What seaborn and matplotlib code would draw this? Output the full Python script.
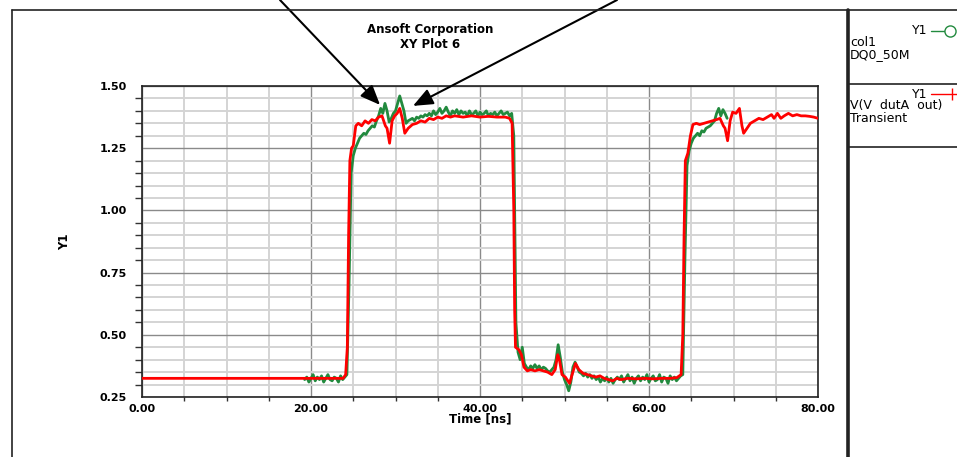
import numpy as np
import pandas as pd
import matplotlib
matplotlib.use("Agg")
import matplotlib.pyplot as plt
from matplotlib.lines import Line2D
from matplotlib.ticker import MultipleLocator
import seaborn as sns

# ---- measured trace: col1 / DQ0_50M (sampled every 0.25 ns from 19.25 ns) ----
MEAS_T0 = 19.25
MEAS_DT = 0.25
meas_low1 = [0.32, 0.33, 0.31, 0.325, 0.34, 0.315, 0.33, 0.32, 0.335, 0.31,
             0.325, 0.34, 0.32, 0.315, 0.33, 0.325, 0.31, 0.335, 0.32, 0.33]
meas_rise1 = [0.34, 0.7, 1.15, 1.22, 1.25, 1.27, 1.29, 1.30, 1.31, 1.305,
              1.32, 1.33, 1.34, 1.335, 1.36, 1.38, 1.41, 1.39, 1.43, 1.40,
              1.355, 1.37, 1.39, 1.40, 1.43, 1.46, 1.43, 1.40, 1.35, 1.36,
              1.365, 1.37, 1.36, 1.375, 1.37, 1.38, 1.375, 1.385, 1.38]
meas_high = [1.39, 1.38, 1.40, 1.385, 1.395, 1.41, 1.39, 1.40, 1.415, 1.395,
             1.38, 1.40, 1.39, 1.405, 1.385, 1.40, 1.39, 1.395, 1.38, 1.40,
             1.385, 1.39, 1.40, 1.38, 1.395, 1.385, 1.39, 1.40, 1.38, 1.39,
             1.385, 1.395, 1.38, 1.39, 1.40, 1.385, 1.39, 1.395, 1.38, 1.39]
meas_fall = [1.3, 0.55, 0.43, 0.40, 0.45, 0.385, 0.37, 0.36, 0.375, 0.365,
             0.38, 0.365, 0.375, 0.36, 0.37, 0.365, 0.355, 0.35, 0.36, 0.37,
             0.40, 0.46, 0.41, 0.35, 0.32, 0.30, 0.275, 0.31, 0.37, 0.39,
             0.37, 0.35, 0.345, 0.335, 0.345, 0.33, 0.34, 0.325, 0.335, 0.32,
             0.33, 0.31, 0.325, 0.315, 0.33, 0.31, 0.325, 0.305, 0.32, 0.33]
meas_low2 = [0.32, 0.335, 0.31, 0.325, 0.34, 0.315, 0.33, 0.305, 0.325, 0.335,
             0.315, 0.33, 0.32, 0.34, 0.31, 0.325, 0.335, 0.315, 0.32, 0.34,
             0.31, 0.33, 0.325, 0.305, 0.335, 0.32, 0.33, 0.315, 0.325, 0.335]
meas_rise2 = [0.34, 0.8, 1.18, 1.24, 1.27, 1.29, 1.30, 1.31, 1.30, 1.32,
              1.315, 1.33, 1.335, 1.34, 1.35, 1.36, 1.39, 1.41, 1.38, 1.405,
              1.39, 1.37]

# ---- simulated trace: V(V dutA out), Transient ----
sim_t = [0.0, 23.8, 24.1, 24.3, 24.45, 24.6, 24.8, 25.0, 25.3, 25.6,
         26.0, 26.4, 26.8, 27.2, 27.6, 28.0, 28.4, 28.8, 29.0, 29.3,
         29.6, 29.9, 30.2, 30.5, 30.8, 31.1, 31.5, 32.0, 32.5, 33.0,
         33.5, 34.0, 34.5, 35.0, 35.5, 36.0, 36.5, 37.0, 38.0, 39.0,
         40.0, 41.0, 42.0, 43.0, 43.5, 43.8, 44.0, 44.1, 44.2, 44.6,
         44.9, 45.2, 45.6, 46.0, 46.5, 47.0, 47.5, 48.0, 48.5, 48.9,
         49.2, 49.4, 49.7, 50.1, 50.6, 50.9, 51.3, 51.7, 52.2, 52.7,
         53.2, 53.7, 54.2, 54.7, 55.2, 55.7, 56.2, 56.7, 57.5, 58.5,
         59.5, 60.5, 61.5, 62.5, 63.3, 63.8, 64.0, 64.15, 64.3, 64.6,
         64.9, 65.2, 65.6, 66.0, 66.5, 67.0, 67.5, 68.0, 68.4, 68.8,
         69.0, 69.3, 69.6, 69.9, 70.3, 70.7, 71.0, 71.2, 71.6, 72.0,
         72.5, 73.0, 73.5, 74.0, 74.5, 74.8, 75.2, 75.6, 76.0, 76.5,
         77.0, 77.5, 78.0, 78.5, 79.0, 79.5, 80.0]
sim_v = [0.325, 0.325, 0.34, 0.45, 0.9, 1.2, 1.25, 1.26, 1.34, 1.35,
         1.34, 1.36, 1.35, 1.365, 1.36, 1.375, 1.38, 1.34, 1.33, 1.27,
         1.36, 1.38, 1.39, 1.41, 1.37, 1.31, 1.33, 1.345, 1.35, 1.36,
         1.355, 1.37, 1.365, 1.375, 1.37, 1.38, 1.375, 1.38, 1.375, 1.38,
         1.375, 1.378, 1.375, 1.375, 1.37, 1.35, 1.0, 0.6, 0.45, 0.44,
         0.42, 0.37, 0.355, 0.36, 0.355, 0.36, 0.355, 0.35, 0.34, 0.36,
         0.42, 0.40, 0.34, 0.33, 0.305, 0.34, 0.385, 0.36, 0.345, 0.34,
         0.335, 0.33, 0.335, 0.325, 0.32, 0.315, 0.325, 0.32, 0.325, 0.323,
         0.325, 0.323, 0.325, 0.325, 0.328, 0.34, 0.5, 0.9, 1.2, 1.23,
         1.3, 1.345, 1.35, 1.345, 1.35, 1.355, 1.36, 1.365, 1.37, 1.34,
         1.33, 1.28, 1.36, 1.395, 1.39, 1.41, 1.34, 1.31, 1.33, 1.35,
         1.36, 1.37, 1.365, 1.375, 1.385, 1.37, 1.39, 1.37, 1.38, 1.39,
         1.38, 1.385, 1.38, 1.38, 1.378, 1.375, 1.37]

x_ticks = [0, 20, 40, 60, 80]
x_tick_labels = ["0.00", "20.00", "40.00", "60.00", "80.00"]
y_ticks = [0.25, 0.50, 0.75, 1.00, 1.25, 1.50]
y_tick_labels = ["0.25", "0.50", "0.75", "1.00", "1.25", "1.50"]

GREEN = "#228a3e"
RED = "#ff0000"

meas_v = meas_low1 + meas_rise1 + meas_high + meas_fall + meas_low2 + meas_rise2
meas_t = MEAS_T0 + MEAS_DT * np.arange(len(meas_v))
df_meas = pd.DataFrame({"t": meas_t, "v": meas_v})
df_sim = pd.DataFrame({"t": sim_t, "v": sim_v})

sns.set_style("white")
plt.rcParams["font.family"] = ["DejaVu Sans"]
plt.rcParams["text.color"] = "black"
plt.rcParams["axes.labelcolor"] = "black"
plt.rcParams["xtick.color"] = "black"
plt.rcParams["ytick.color"] = "black"

W, H = 957, 457
fig = plt.figure(figsize=(W / 100, H / 100), dpi=100)
ax = fig.add_axes([142 / W, 60 / H, 676 / W, 311 / H])

sns.lineplot(data=df_meas, x="t", y="v", ax=ax, color=GREEN, lw=2.0,
             estimator=None, sort=False, zorder=3)
sns.lineplot(data=df_sim, x="t", y="v", ax=ax, color=RED, lw=2.0,
             estimator=None, sort=False, zorder=4)

ax.set_xlim(0, 80)
ax.set_ylim(0.25, 1.50)
ax.set_xticks(x_ticks)
ax.set_xticklabels(x_tick_labels)
ax.set_yticks(y_ticks)
ax.set_yticklabels(y_tick_labels)
ax.xaxis.set_minor_locator(MultipleLocator(5))
ax.yaxis.set_minor_locator(MultipleLocator(0.05))

ax.set_axisbelow(True)
ax.grid(which="minor", color="#d4d4d4", lw=1.4)
ax.grid(which="major", color="#8a8a8a", lw=1.0)

for s in ax.spines.values():
    s.set_visible(True)
    s.set_color("#222222")
    s.set_linewidth(1.2)

ax.tick_params(axis="y", which="major", direction="out", length=11, width=1,
               color="#333333", pad=0, labelsize=8, labelcolor="black")
ax.tick_params(axis="y", which="minor", direction="out", length=5, width=1,
               color="#333333", left=True)
ax.tick_params(axis="x", which="major", direction="out", length=4, width=1,
               color="#333333", pad=1, labelsize=8, labelcolor="black")
ax.tick_params(axis="x", which="minor", direction="out", length=3, width=1,
               color="#333333", bottom=True)
for lab in ax.get_xticklabels() + ax.get_yticklabels():
    lab.set_fontweight("bold")

ax.set_xlabel("Time [ns]", fontsize=8.5, fontweight="bold", color="black")
ax.set_ylabel("Y1", fontsize=8.5, fontweight="bold", color="black")
ax.xaxis.set_label_coords(0.5, -0.05)
ax.yaxis.set_label_coords(-0.105, 0.5)

fig.text(430 / W, 1 - 23 / H, "Ansoft Corporation\nXY Plot 6", ha="center",
         va="top", fontsize=8.5, fontweight="bold", linespacing=1.15,
         color="black")

# pointer arrows to the overshoot peaks
arrow_style = dict(arrowstyle="-|>,head_length=1.2,head_width=0.5",
                   color="black", lw=1.5, shrinkA=0, shrinkB=0)
ax.annotate("", xy=(28.17, 1.424), xycoords="data",
            xytext=(280 / W, 1.0), textcoords="figure fraction",
            arrowprops=arrow_style, annotation_clip=False, zorder=6)
ax.annotate("", xy=(32.07, 1.42), xycoords="data",
            xytext=(617 / W, 1.0), textcoords="figure fraction",
            arrowprops=arrow_style, annotation_clip=False, zorder=6)


def fline(x0, y0, x1, y1, lw=1.2, color="#222222"):
    fig.add_artist(Line2D([x0 / W, x1 / W], [1 - y0 / H, 1 - y1 / H],
                          transform=fig.transFigure, lw=lw, color=color))


# outer frame and legend panel
fline(12, 10, 12, H)
fline(12, 10, W, 10)
fline(848, 10, 848, H, lw=2.6)
fline(848, 84, W, 84)
fline(848, 147, W, 147)

# legend entries
fig.add_artist(Line2D([931 / W, 946 / W], [1 - 31 / H, 1 - 31 / H],
                      transform=fig.transFigure, lw=1.0, color=GREEN))
fig.add_artist(Line2D([950 / W], [1 - 31 / H], transform=fig.transFigure,
                      marker="o", markersize=8, markerfacecolor="white",
                      markeredgecolor=GREEN, markeredgewidth=1.0, lw=0))
fig.add_artist(Line2D([931 / W, W / W], [1 - 94 / H, 1 - 94 / H],
                      transform=fig.transFigure, lw=1.0, color=RED))
fig.add_artist(Line2D([952 / W], [1 - 94 / H], transform=fig.transFigure,
                      marker="|", markersize=8, markeredgecolor=RED,
                      markeredgewidth=1.0, lw=0))

fig.text(927 / W, 1 - 31 / H, "Y1", ha="right", va="center", fontsize=9)
fig.text(850 / W, 1 - 43 / H, "col1", ha="left", va="center", fontsize=9)
fig.text(850 / W, 1 - 55 / H, "DQ0_50M", ha="left", va="center", fontsize=9)
fig.text(927 / W, 1 - 94 / H, "Y1", ha="right", va="center", fontsize=9)
fig.text(850 / W, 1 - 106 / H, "V(V  dutA  out)", ha="left", va="center",
         fontsize=9)
fig.text(850 / W, 1 - 118 / H, "Transient", ha="left", va="center", fontsize=9)

fig.savefig("out.png", dpi=100)
